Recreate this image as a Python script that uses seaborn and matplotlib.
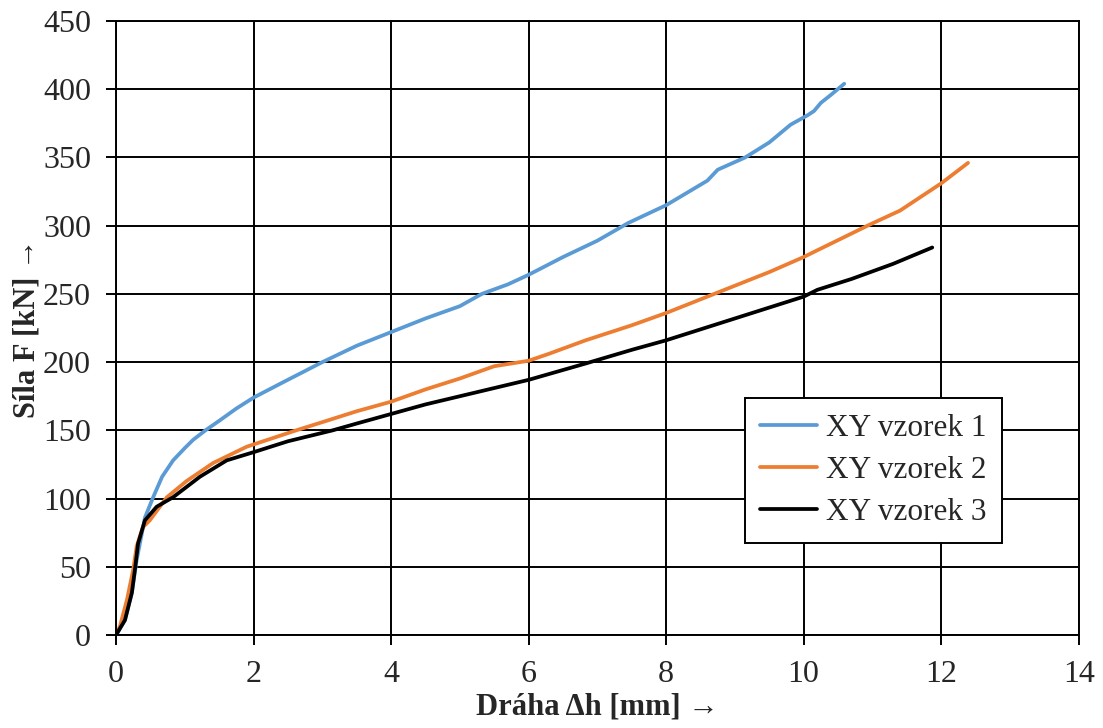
import pandas as pd
import matplotlib
matplotlib.use('Agg')
import matplotlib.pyplot as plt
import seaborn as sns

sns.set_style('white')
plt.rcParams['font.family'] = ['Liberation Serif', 'STIXGeneral', 'DejaVu Serif']

# data
x1 = [0, 0.13, 0.23, 0.3, 0.42, 0.54, 0.67, 0.83, 1.0, 1.12, 1.3, 1.5, 1.75, 2.0, 2.42, 3.0,
      3.5, 4.0, 4.5, 5.0, 5.32, 5.7, 6.0, 6.5, 7.0, 7.45, 8.0, 8.3, 8.6, 8.75, 9.15, 9.5,
      9.81, 10.06, 10.15, 10.25, 10.4, 10.59]
y1 = [0, 11, 31, 55, 86, 101, 116, 128, 137, 143, 150, 157, 166, 174, 185, 200,
      212, 222, 232, 241, 250, 257, 264, 277, 289, 302, 315, 324, 333, 341, 350, 361,
      374, 381, 384, 390, 396, 404]

x2 = [0, 0.06, 0.16, 0.25, 0.3, 0.39, 0.49, 0.74, 1.03, 1.41, 1.9, 2.62, 3.0, 3.5, 4.0,
      4.5, 5.0, 5.5, 6.0, 6.29, 6.83, 7.5, 8.0, 8.75, 9.5, 10.0, 10.2, 10.97, 11.4, 12.0, 12.39]
y2 = [0, 7, 26, 48, 65, 79, 84, 101, 113, 126, 138, 150, 156, 164, 171,
      180, 188, 197, 201, 206, 216, 227, 236, 251, 266, 277, 282, 301, 311, 331, 346]

x3 = [0, 0.13, 0.23, 0.28, 0.32, 0.42, 0.59, 0.83, 1.22, 1.61, 2.0, 2.5, 3.15, 3.5, 4.0,
      4.5, 5.0, 5.5, 6.0, 6.83, 7.5, 8.0, 8.5, 9.0, 9.5, 10.0, 10.2, 10.7, 11.3, 11.87]
y3 = [0, 11, 31, 50, 67, 84, 94, 101, 116, 128, 134, 142, 150, 155, 162,
      169, 175, 181, 187, 199, 209, 216, 224, 232, 240, 248, 253, 261, 272, 284]

labels = ['XY vzorek 1', 'XY vzorek 2', 'XY vzorek 3']
colors = ['#5B9BD5', '#ED7D31', '#000000']

fig = plt.figure(figsize=(11.03, 7.28), dpi=100)
ax = fig.add_axes([0.1052, 0.1277, 0.8728, 0.8435])

for xs, ys, lab, col in zip([x1, x2, x3], [y1, y2, y3], labels, colors):
    df = pd.DataFrame({'x': xs, 'y': ys})
    sns.lineplot(data=df, x='x', y='y', ax=ax, color=col, linewidth=2.7,
                 label=lab, sort=False, estimator=None)

ax.set_xlim(0, 14)
ax.set_ylim(0, 450)
ax.set_xticks(range(0, 15, 2))
ax.set_yticks(range(0, 451, 50))
ax.grid(True, color='black', linewidth=1.4)
ax.set_axisbelow(True)
for s in ax.spines.values():
    s.set_color('black')
    s.set_linewidth(1.4)
ax.tick_params(axis='both', direction='out', length=7, width=1.4, color='black',
               labelsize=23, pad=11, bottom=True, left=True)

ax.set_xlabel('Dráha Δh [mm] →', fontsize=22, fontweight='bold')
ax.set_ylabel('Síla F [kN] →', fontsize=22, fontweight='bold')
ax.xaxis.set_label_coords(0.5, -0.094)
ax.yaxis.set_label_coords(-0.077, 0.5)

leg = ax.legend(loc='upper left', bbox_to_anchor=(0.653, 0.386), borderaxespad=0,
                fontsize=22.5, frameon=True, fancybox=False, framealpha=1, edgecolor='black',
                handlelength=1.8, handletextpad=0.3, borderpad=0.5, labelspacing=0.42)
leg.get_frame().set_linewidth(1.4)

fig.savefig('out.png', dpi=100)
